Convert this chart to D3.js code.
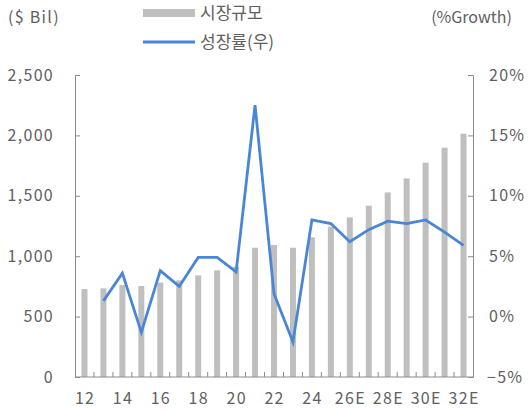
<!DOCTYPE html>
<html>
<head>
<meta charset="utf-8">
<script src="https://cdn.jsdelivr.net/npm/d3@7"></script>
<style>
  html, body { margin: 0; padding: 0; background: #fff; }
  svg text { font-family: "Noto Sans CJK KR", "Noto Sans", sans-serif; fill: #606060; }
  .num { letter-spacing: 1.3px; }
</style>
</head>
<body>
<svg id="chart" width="528" height="411"></svg>
<script>
/* Market size (bars, left axis) and growth rate (line, right axis), 2012-2032E */

const years = ['12', '13', '14', '15', '16', '17', '18', '19', '20', '21', '22',
  '23', '24', '25', '26E', '27E', '28E', '29E', '30E', '31E', '32E'];
const xLabels = ['12', '14', '16', '18', '20', '22', '24', '26E', '28E', '30E', '32E'];

// $ Bil
const marketSize = [728, 734, 761, 753, 781, 800, 841, 883, 913, 1070, 1093,
  1070, 1156, 1244, 1321, 1418, 1528, 1644, 1774, 1898, 2014];

// % growth, first year has no value
const growth = [null, 1.3, 3.6, -1.3, 3.8, 2.5, 4.9, 4.9, 3.7, 17.5, 1.9,
  -2.1, 8.0, 7.7, 6.2, 7.2, 7.9, 7.7, 8.0, 7.0, 5.9];

const leftTicks = [0, 500, 1000, 1500, 2000, 2500];
const rightTicks = [-5, 0, 5, 10, 15, 20];

const legendLabels = ['시장규모', '성장률(우)'];

const svg = d3.select('#chart');
const plot = { left: 75, right: 473, top: 75, bottom: 377 };

const x = d3.scaleBand()
  .domain(years)
  .range([plot.left, plot.right])
  .paddingInner(0)
  .paddingOuter(0);

const yL = d3.scaleLinear().domain([0, 2500]).range([plot.bottom, plot.top]);
const yR = d3.scaleLinear().domain([-5, 20]).range([plot.bottom, plot.top]);

const axisColor = '#8c8c8c';
const barColor = '#bfbfbf';
const lineColor = '#4a86d6';

// bars
const barW = 6;
svg.append('g').selectAll('rect')
  .data(marketSize)
  .join('rect')
  .attr('x', (d, i) => x(years[i]) + x.bandwidth() / 2 - barW / 2)
  .attr('width', barW)
  .attr('y', d => yL(d))
  .attr('height', d => yL(0) - yL(d))
  .attr('fill', barColor);

// growth line
const line = d3.line()
  .defined(d => d != null)
  .x((d, i) => x(years[i]) + x.bandwidth() / 2)
  .y(d => yR(d));

svg.append('path')
  .datum(growth)
  .attr('fill', 'none')
  .attr('stroke', lineColor)
  .attr('stroke-width', 2.8)
  .attr('stroke-linejoin', 'miter')
  .attr('d', line);

// left axis (ticks inside)
const gL = svg.append('g')
  .attr('transform', `translate(${plot.left},0)`)
  .call(d3.axisRight(yL).tickValues(leftTicks).tickSize(5).tickFormat(''));
gL.select('.domain').attr('stroke', axisColor);
gL.selectAll('.tick line').attr('stroke', axisColor);

svg.append('g').selectAll('text')
  .data(leftTicks)
  .join('text')
  .attr('class', 'num')
  .attr('x', 54)
  .attr('y', d => yL(d))
  .attr('dy', '0.35em')
  .attr('text-anchor', 'end')
  .style('font-size', '16px')
  .text(d3.format(','));

// right axis (ticks inside)
const gR = svg.append('g')
  .attr('transform', `translate(${plot.right},0)`)
  .call(d3.axisLeft(yR).tickValues(rightTicks).tickSize(5).tickFormat(''));
gR.select('.domain').attr('stroke', axisColor);
gR.selectAll('.tick line').attr('stroke', axisColor);

svg.append('g').selectAll('text')
  .data(rightTicks)
  .join('text')
  .attr('class', 'num')
  .attr('x', d => d < 0 ? 487 : 489)
  .attr('y', d => yR(d))
  .attr('dy', '0.35em')
  .style('font-size', '16px')
  .text(d => (d < 0 ? '\u2212' + Math.abs(d) : d) + '%');

// x axis: line + small upward ticks at band edges
svg.append('line')
  .attr('x1', plot.left).attr('x2', plot.right)
  .attr('y1', plot.bottom).attr('y2', plot.bottom)
  .attr('stroke', axisColor);

svg.append('g').selectAll('line')
  .data(years.slice(1))
  .join('line')
  .attr('x1', d => x(d)).attr('x2', d => x(d))
  .attr('y1', plot.bottom).attr('y2', plot.bottom - 5)
  .attr('stroke', axisColor);

svg.append('g').selectAll('text')
  .data(xLabels)
  .join('text')
  .attr('class', 'num')
  .attr('x', d => x(d) + x.bandwidth() / 2 + 0.6)
  .attr('y', 398)
  .attr('dy', '0.35em')
  .attr('text-anchor', 'middle')
  .style('font-size', '16px')
  .text(d => d);

// unit labels
svg.append('text').attr('x', 8).attr('y', 17).attr('dy', '0.35em')
  .attr('class', 'num')
  .style('font-size', '16px').text('($ Bil)');
svg.append('text').attr('x', 512).attr('y', 17).attr('dy', '0.35em')
  .attr('text-anchor', 'end')
  .style('font-size', '16px').text('(%Growth)');

// legend
svg.append('rect').attr('x', 143).attr('y', 9).attr('width', 52).attr('height', 8)
  .attr('fill', barColor);
svg.append('text').attr('x', 200).attr('y', 13).attr('dy', '0.35em')
  .style('font-size', '17px').text(legendLabels[0]);
svg.append('line').attr('x1', 143).attr('x2', 195).attr('y1', 42).attr('y2', 42)
  .attr('stroke', lineColor).attr('stroke-width', 2.8);
svg.append('text').attr('x', 200).attr('y', 42).attr('dy', '0.35em')
  .style('font-size', '17px').text(legendLabels[1]);
</script>
</body>
</html>
